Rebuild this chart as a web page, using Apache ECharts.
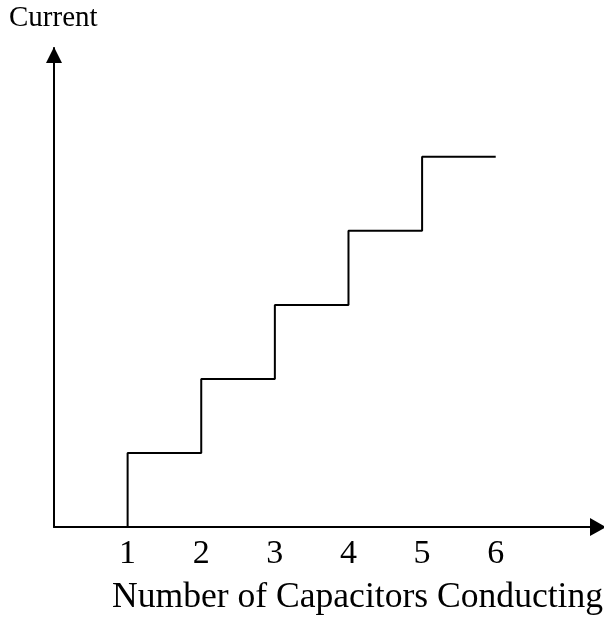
<!DOCTYPE html>
<html>
<head>
<meta charset="utf-8">
<script src="https://cdn.jsdelivr.net/npm/echarts@6/dist/echarts.min.js"></script>
<style>
html,body{margin:0;padding:0;background:#fff;}
#c{width:604px;height:620px;}
</style>
</head>
<body>
<div id="c"></div>
<script>
var capacitors = [1, 2, 3, 4, 5, 6];
var current = [0, 1, 2, 3, 4, 5];
var xTickLabels = ['1', '2', '3', '4', '5', '6'];
var yAxisTitle = 'Current';
var xAxisTitle = 'Number of Capacitors Conducting';

var serif = "'Liberation Serif', 'Times New Roman', serif";
var chart = echarts.init(document.getElementById('c'));
var pts = capacitors.map(function (x, i) { return [x, current[i]]; });

chart.setOption({
  animation: false,
  backgroundColor: '#fff',
  title: [
    { text: yAxisTitle, left: 9, top: 4, padding: 0,
      textStyle: { fontFamily: serif, fontSize: 29, fontWeight: 'normal', color: '#000' } },
    { text: xAxisTitle, left: 112, top: 580, padding: 0,
      textStyle: { fontFamily: serif, fontSize: 35.6, fontWeight: 'normal', color: '#000' } }
  ],
  grid: { left: 54, right: 0, top: 48, bottom: 93, containLabel: false },
  xAxis: {
    type: 'value', min: 0, max: 7.43, interval: 1,
    axisLine: { show: true, symbol: ['none', 'triangle'], symbolSize: [18, 16], symbolOffset: [0, -3],
      lineStyle: { color: '#000', width: 2 } },
    axisTick: { show: false },
    splitLine: { show: false },
    axisLabel: {
      margin: 10, color: '#000', fontFamily: serif, fontSize: 34,
      formatter: function (v) {
        var i = capacitors.indexOf(v);
        return i >= 0 ? xTickLabels[i] : '';
      }
    }
  },
  yAxis: {
    type: 'value', min: 0, max: 6.47, interval: 1,
    axisLine: { show: true, symbol: ['none', 'triangle'], symbolSize: [16, 16], symbolOffset: [0, -7],
      lineStyle: { color: '#000', width: 2 } },
    axisTick: { show: false },
    splitLine: { show: false },
    axisLabel: { show: false }
  },
  series: [{
    type: 'line',
    step: 'start',
    data: pts,
    symbol: 'none',
    lineStyle: { color: '#000', width: 2 }
  }]
});
</script>
</body>
</html>
